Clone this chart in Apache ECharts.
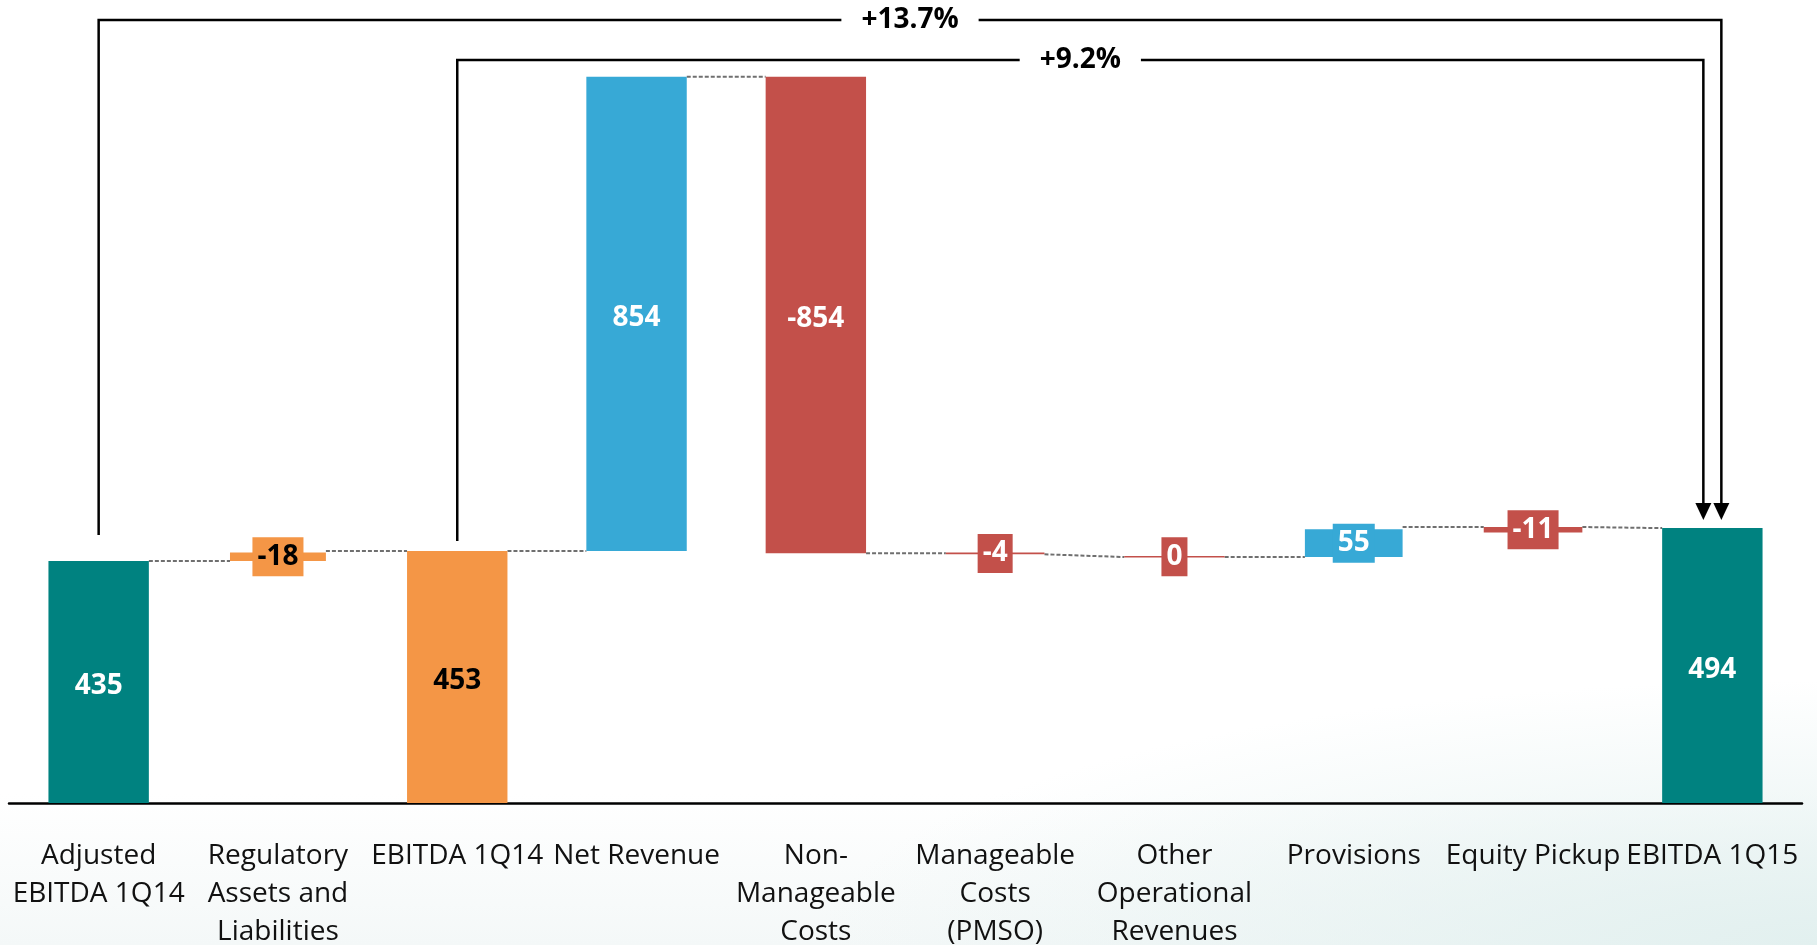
<!DOCTYPE html>
<html>
<head>
<meta charset="utf-8">
<title>EBITDA 1Q14 to 1Q15</title>
<script src="https://cdn.jsdelivr.net/npm/echarts@6/dist/echarts.min.js"></script>
<style>
  html, body {
    margin: 0;
    padding: 0;
    width: 1817px;
    height: 945px;
    overflow: hidden;
    background:
      radial-gradient(ellipse 55% 28% at 100% 100%, #e2f0ef 0%, rgba(255,255,255,0) 100%),
      linear-gradient(to bottom, #ffffff 0%, #ffffff 84%, #f4f8f8 100%);
  }
  #chart { width: 1817px; height: 945px; }
</style>
</head>
<body>
<div id="chart"></div>
<script>
// categories and the numbers printed on the bars
const categories = [
  'Adjusted\nEBITDA 1Q14', 'Regulatory\nAssets and\nLiabilities', 'EBITDA 1Q14', 'Net Revenue',
  'Non-\nManageable\nCosts', 'Manageable\nCosts\n(PMSO)', 'Other\nOperational\nRevenues',
  'Provisions', 'Equity Pickup', 'EBITDA 1Q15'
];
const barLabels = [435, -18, 453, 854, -854, -4, 0, 55, -11, 494];
const barKind = ['total', 'adjust', 'adjust', 'up', 'down', 'down', 'down', 'up', 'down', 'total'];

// where each bar sits on the (hidden) value axis, as drawn in the picture
const barLow  = [0, 435, 0, 453, 449, 447, 441, 442, 486, 0];
const barHigh = [435, 450, 453, 1305, 1305, 450, 444, 492, 496, 494];

// dashed connectors: level leaving bar i, level entering bar i+1
const linkLeft  = [435, 453, 453, 1305, 449, 447, 442, 496, 496];
const linkRight = [435, 453, 453, 1305, 449, 442, 442, 496, 494];

// growth brackets over the chart
const growthText = ['+13.7%', '+9.2%'];
const growthFrom = [0, 2];
const growthTo   = [9, 9];

// styling
const kindColor = { total: '#008280', adjust: '#F49646', up: '#37A9D6', down: '#C3504A' };
const barWidthFrac = [0.56, 0.535, 0.56, 0.56, 0.56, 0.55, 0.56, 0.545, 0.55, 0.56];
const FONT = '"Open Sans", "Noto Sans", sans-serif';

const chart = echarts.init(document.getElementById('chart'));

const option = {
  animation: false,
  backgroundColor: 'transparent',
  grid: { left: 9, right: 15, top: 24, bottom: 142, containLabel: false, outerBoundsMode: 'none' },
  xAxis: {
    type: 'category',
    data: categories,
    axisLine: { lineStyle: { color: '#000', width: 2.5 } },
    axisTick: { show: false },
    axisLabel: {
      interval: 0,
      margin: 34,
      color: '#111',
      fontFamily: FONT,
      fontSize: 28,
      lineHeight: 38
    }
  },
  yAxis: { type: 'value', min: 0, max: 1400, show: false, splitLine: { show: false } },
  series: [
    {
      type: 'custom',
      name: 'links',
      z: 1,
      data: linkLeft.map((v, i) => [i, v, linkRight[i]]),
      encode: { x: 0, y: [1, 2] },
      renderItem: function (params, api) {
        const i = params.dataIndex;
        const band = api.size([1, 0])[0];
        const a = api.coord([i, api.value(1)]);
        const b = api.coord([i + 1, api.value(2)]);
        return {
          type: 'line',
          shape: {
            x1: a[0] + band * barWidthFrac[i] / 2, y1: a[1],
            x2: b[0] - band * barWidthFrac[i + 1] / 2, y2: b[1]
          },
          style: { stroke: '#6f6f6f', lineWidth: 2, lineDash: [4, 2] }
        };
      }
    },
    {
      type: 'custom',
      name: 'bars',
      z: 2,
      data: barLow.map((v, i) => [i, v, barHigh[i]]),
      encode: { x: 0, y: [1, 2] },
      renderItem: function (params, api) {
        const i = params.dataIndex;
        const band = api.size([1, 0])[0];
        const w = band * barWidthFrac[i];
        const top = api.coord([i, api.value(2)]);
        const bottom = api.coord([i, api.value(1)]);
        const h = Math.max(bottom[1] - top[1], 1);
        const color = kindColor[barKind[i]];
        const textColor = barKind[i] === 'adjust' ? '#000' : '#fff';
        const thin = h < 40;
        return {
          type: 'rect',
          shape: { x: top[0] - w / 2, y: top[1], width: w, height: h },
          style: { fill: color },
          textContent: {
            style: {
              text: String(barLabels[i]),
              fill: textColor,
              stroke: 'transparent',
              lineWidth: 0,
              font: 'bold 28px ' + FONT,
              lineHeight: 29,
              backgroundColor: thin ? color : 'transparent',
              padding: thin ? [7, 5, 3, 5] : [5, 2]
            }
          },
          textConfig: {
            position: 'inside',
            offset: thin ? [0, 0] : [0, 4],
            insideFill: textColor,
            insideStroke: 'transparent'
          }
        };
      }
    }
  ]
};

chart.setOption(option);

// brackets with arrows, placed from the bar positions
function drawBrackets() {
  const lineY = [20, 60];
  const leftGap = [26, 10];
  const rightShift = [9, -9];
  const graphics = [];
  growthText.forEach(function (txt, k) {
    const from = chart.convertToPixel({ seriesIndex: 1 }, [growthFrom[k], barHigh[growthFrom[k]]]);
    const to = chart.convertToPixel({ seriesIndex: 1 }, [growthTo[k], barHigh[growthTo[k]]]);
    const xL = from[0];
    const xR = to[0] + rightShift[k];
    const tipY = to[1] - 8;
    graphics.push({
      type: 'polyline',
      z: 5,
      shape: { points: [[xL, from[1] - leftGap[k]], [xL, lineY[k]], [xR, lineY[k]], [xR, tipY - 14]] },
      style: { stroke: '#000', lineWidth: 2.5, fill: null }
    });
    graphics.push({
      type: 'polygon',
      z: 5,
      shape: { points: [[xR - 8, tipY - 17], [xR + 8, tipY - 17], [xR, tipY]] },
      style: { fill: '#000' }
    });
    graphics.push({
      type: 'text',
      z: 10,
      x: (xL + xR) / 2,
      y: lineY[k],
      style: {
        text: txt,
        font: 'bold 28px ' + FONT,
        fill: '#000',
        align: 'center',
        verticalAlign: 'middle',
        backgroundColor: '#fff',
        padding: [0, 20]
      }
    });
  });
  chart.setOption({ graphic: graphics });
}
drawBrackets();
</script>
</body>
</html>
